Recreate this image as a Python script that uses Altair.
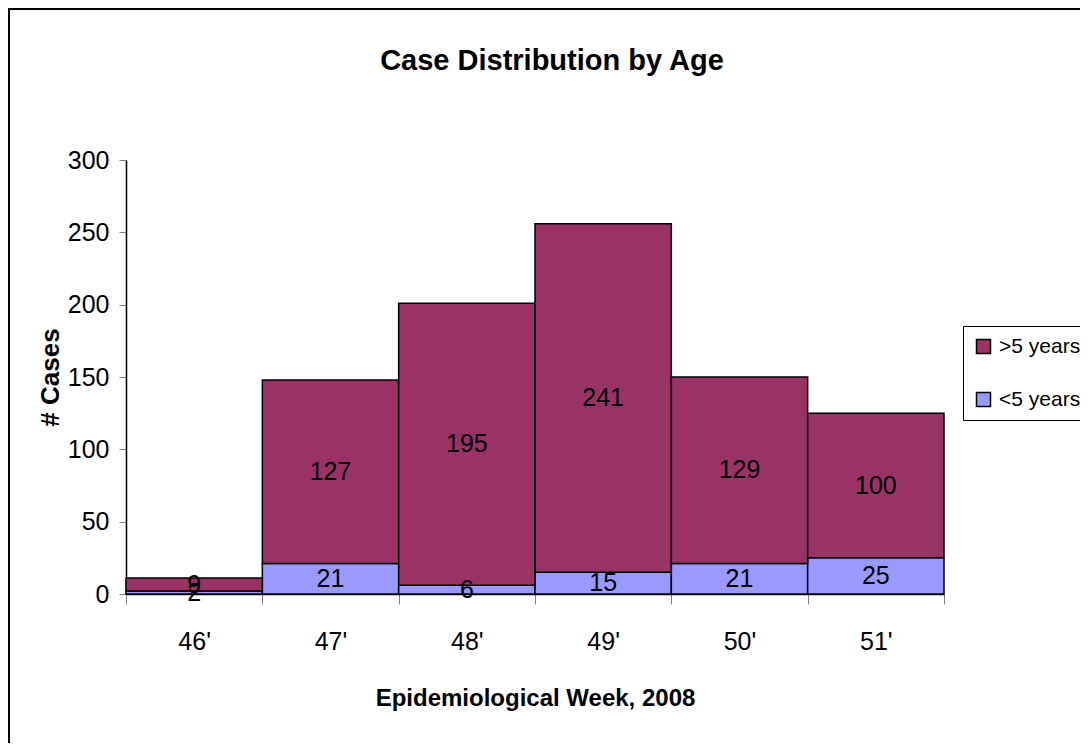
import altair as alt
import pandas as pd

weeks = ["46'", "47'", "48'", "49'", "50'", "51'"]
under5 = [2, 21, 6, 15, 21, 25]
over5 = [9, 127, 195, 241, 129, 100]
groups = ["<5 years", ">5 years"]
legend_order = [">5 years", "<5 years"]
colors = ["#993366", "#9999FF"]
y_ticks = [0, 50, 100, 150, 200, 250, 300]

rows = []
for w, u, o in zip(weeks, under5, over5):
    rows.append({"week": w, "group": groups[0], "value": u, "ord": 0})
    rows.append({"week": w, "group": groups[1], "value": o, "ord": 1})
df = pd.DataFrame(rows)

FONT = "Liberation Sans, Arial"
W, H = 818, 434

base = alt.Chart(df).transform_stack(
    stack="value", groupby=["week"], as_=["y0", "y1"], sort=[alt.SortField("ord", order="ascending")]
).transform_calculate(mid="(datum.y0 + datum.y1) / 2")

x_enc = alt.X("week:N", sort=weeks,
              scale=alt.Scale(paddingInner=0, paddingOuter=0),
              axis=alt.Axis(title="Epidemiological Week, 2008", labelAngle=0,
                            tickBand="extent", tickSize=10, tickColor="#808080",
                            domainColor="#000000", labelFontSize=25, labelPadding=25,
                            labelFont=FONT, labelColor="#000000",
                            titleFont=FONT, titleFontSize=24, titleFontWeight="bold",
                            titlePadding=32, titleColor="#000000"))

bars = base.mark_bar(stroke="#000000", strokeWidth=1.5).encode(
    x=x_enc,
    y=alt.Y("y0:Q", scale=alt.Scale(domain=[0, 300], nice=False),
            axis=alt.Axis(title="# Cases", values=y_ticks, grid=False, tickSize=7,
                          tickColor="#808080", domainColor="#000000",
                          labelFontSize=25, labelPadding=10, labelFont=FONT,
                          labelColor="#000000", titleFont=FONT, titleFontSize=26,
                          titleFontWeight="bold", titlePadding=4, titleColor="#000000")),
    y2="y1:Q",
    color=alt.Color("group:N", scale=alt.Scale(domain=legend_order, range=colors),
                    legend=alt.Legend(title=None, orient="none", legendX=837, legendY=166,
                                      symbolType="square", symbolSize=196,
                                      symbolStrokeColor="#000000", symbolStrokeWidth=1.5,
                                      symbolOpacity=1,
                                      labelFontSize=21, labelFont=FONT, labelColor="#000000",
                                      strokeColor="#000000", fillColor="#FFFFFF",
                                      padding=10, rowPadding=31, labelOffset=5)),
    order=alt.Order("ord:Q"),
)

labels = base.mark_text(fontSize=25, font=FONT, color="#000000", baseline="middle").encode(
    x=alt.X("week:N", sort=weeks),
    y=alt.Y("mid:Q"),
    text=alt.Text("value:Q"),
)

frame = alt.Chart(df).mark_rect(fill=None, stroke="#000000", strokeWidth=1.5).encode(
    x=alt.value(-117.5), x2=alt.value(1200), y=alt.value(-151.5), y2=alt.value(900)
)

chart = alt.layer(bars, labels, frame).properties(
    width=W, height=H,
    title=alt.TitleParams("Case Distribution by Age", font=FONT, fontSize=29,
                          fontWeight="bold", color="#000000", dx=17, offset=-68),
    autosize=alt.AutoSizeParams(type="none"),
    padding={"left": 118, "top": 152, "right": 136, "bottom": 149},
).configure_view(stroke=None).configure_axis(domainWidth=1.5)

chart.save("out.html", embed_options={"renderer": "svg", "actions": False})
